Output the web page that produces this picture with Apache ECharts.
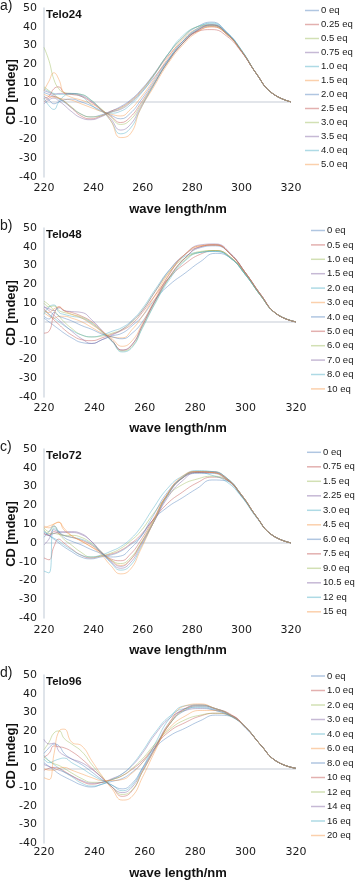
<!DOCTYPE html>
<html><head><meta charset="utf-8">
<script src="https://cdn.jsdelivr.net/npm/echarts@6/dist/echarts.min.js"></script>
<style>html,body{margin:0;padding:0;background:#fff}#c{width:355px;height:883px}</style>
</head><body><div id="c"></div>
<script>
// ---------- data ----------
const wavelength = [220,222,224,226,228,231,235,239,243,247,251,255,259,264,270,276,282,288,294,300,306,312,320];
const xTicks = [220,240,260,280,300,320];
const yTicks = [-40,-30,-20,-10,0,10,20,30,40,50];
const panelNames = ['Telo24','Telo48','Telo72','Telo96'];
const panelLetters = ['a)','b)','c)','d)'];

const eqTelo24 = ['0 eq','0.25 eq','0.5 eq','0.75 eq','1.0 eq','1.5 eq','2.0 eq','2.5 eq','3.0 eq','3.5 eq','4.0 eq','5.0 eq'];
const cdTelo24 = [
 [5,4,3,1.5,0,-3,-6.5,-8,-7,-5,-2.5,1,6,14,25,34,40,42.5,37,27,15,5,0],
 [0,2,3,2,0.5,-3,-7.5,-9,-7.5,-5,-3,0.5,5.5,13.5,24,32,37.5,38.5,35,26.5,15,5,0],
 [8,6,4,2,0.5,-2.5,-6.5,-8,-7.5,-5.5,-3.5,0,5,13.5,25,34,40,41,36.5,27,15,5,0],
 [-1,1,2,0.5,-1.5,-5,-8.5,-9.5,-8,-5.5,-4,-0.5,4.5,12,22,31,38,40.5,36.5,27,15,5,0],
 [7,5.5,4.5,4,4,4,3,-1.5,-5,-6,-5,-1.5,4,13,25,35,40,41.5,37,27.5,15,5,0],
 [4,3,2.5,2,1.5,1,-1,-3,-5,-6.5,-7.5,-4,2,11,23,33,39,41,36.5,27,15,5,0],
 [3,1,-1,0,1,1.5,0,-2,-4.5,-7,-9,-6,0.5,10,22,32,38.5,41,36.5,27,15,5,0],
 [2,3,7,8,5,4,3,0,-4,-7.5,-11,-8,-1,9,21,31,37.5,40,36,27,15,5,0],
 [29,22,12,7,5,4.5,4,1,-3.5,-8,-12,-9.5,-2,8.5,21,31,38,40.5,36,27,15,5,0],
 [6,5,4,4.5,4.5,4.5,3.5,0.5,-4,-9,-15,-12,-3,8,21,31,38,41,36.5,27,15,5,0],
 [2,-2,-4,0,3,4.5,4,1,-4,-10,-17,-14,-4,8,21.5,32,39,42,37,27.5,15,5,0],
 [6,11,15.5,12,5,2.5,1,-1,-4,-10,-19,-17,-4,7,20,30,37,40,36,27,15,5,0]
];

const eqTelo48 = ['0 eq','0.5 eq','1.0 eq','1.5 eq','2.0 eq','3.0 eq','4.0 eq','5.0 eq','6.0 eq','7.0 eq','8.0 eq','10 eq'];
const cdTelo48 = [
 [2,0,-2,-4,-6,-8.5,-11,-11.5,-9.5,-7.5,-6,-2,3,12,20,26,32,36.5,34,25,14,4.5,0],
 [7,4,1,-1.5,-4,-7,-9.5,-10,-8.5,-6.5,-4.5,-1,5,14,24,31,36,38,34.5,25.5,14,4.5,0],
 [11,9,6,3,0,-3.5,-7,-8,-7.5,-6,-4,0,6,16,27,34,37,38,34,25,14,4.5,0],
 [8,6,3.5,1,-1.5,-5,-9,-11.5,-9.5,-7,-4,0.5,6,16,28,36,40,41,36,26,14.5,4.5,0],
 [6,4,2,0,-2,-4.5,-7,-8,-7,-5,-3,1,7,17,28,35,37,37.5,34,25,14,4.5,0],
 [5,3,2,3,3,2,0,-3,-6,-8,-8.5,-4,3,14,27,36,40.5,41,36,26,14.5,4.5,0],
 [3,1.5,5,3,2,0.5,-2,-4,-6.5,-8,-9,-6,0,11,24,34,39.5,40.5,36,26,14.5,4.5,0],
 [-6,-5,4,8,6,5,3,0,-5,-10,-15,-12,-2,11,24.5,34,40,41,36,26,14.5,4.5,0],
 [10,8,8.5,6,5,4,2.5,-0.5,-5,-10,-15.5,-13,-3,10,24,33,37.5,38,34.5,25.5,14,4.5,0],
 [8,7,6,7.5,6,5.5,5,1,-4.5,-10,-15,-12,-2,11,26,36,41,41.5,36.5,26,14.5,4.5,0],
 [4,8,9,5,4,3,2,-1,-5.5,-10.5,-16,-13.5,-3.5,9.5,23,32.5,37,37.5,34,25,14,4.5,0],
 [6,5,7,8,6,4,2,-1.5,-5,-9,-13,-10,-1,12,26,36,40.5,41,36,26,14.5,4.5,0]
];

const eqTelo72 = ['0 eq','0.75 eq','1.5 eq','2.25 eq','3.0 eq','4.5 eq','6.0 eq','7.5 eq','9.0 eq','10.5 eq','12 eq','15 eq'];
const cdTelo72 = [
 [6,4,2,0,-2,-4.5,-7.5,-8.5,-7.5,-6.5,-4.5,-1,3,12,19,24,29,33.5,33,25,14,4.5,0],
 [-8,-9,-2,2,0,-3,-6.5,-8,-7,-6,-4,-0.5,4,12,21,27,32,35,33.5,25,14,4.5,0],
 [8,6,9,5,2,-1,-5,-7.5,-7,-5.5,-3,1,6,15,25,31,34,35.5,33.5,25,14,4.5,0],
 [-1,2,7,6,6,6,5,1,-5,-9.5,-12.5,-9,-1,10,24,33,37.5,37.5,34,25.5,14,4.5,0],
 [6,4,2.5,1,-1,-3.5,-6.5,-7.5,-6.5,-4.5,-2,2,8,18,29,35.5,37.5,36,32.5,24.5,13.5,4.5,0],
 [9,8,10,11,7,4,1,-2,-5,-9,-12,-9,-1,11,26,35,38,37.5,34,25.5,14,4.5,0],
 [3,6,9,6,3,1,-1,-3.5,-5.5,-7.5,-7,-3,3,14,27,34.5,37,37,33.5,25,14,4.5,0],
 [5,4,6,5,4,3,1.5,-1,-5,-8.5,-9.5,-6,1,12,26,34.5,37.5,37.5,34,25.5,14,4.5,0],
 [7,5,5,4.5,4,4,3,0,-4.5,-9,-11,-8,-0.5,11,25.5,34.5,38,38,34.5,25.5,14,4.5,0],
 [5,4,5,5.5,5.5,5.5,4.5,1,-4.5,-10,-13.5,-10.5,-2,10,25,34.5,38,38,34.5,25.5,14,4.5,0],
 [-15,-16,8,6,4,3,2,-0.5,-5,-10.5,-14.5,-12,-3,10,25.5,35,38.5,38,34.5,25.5,14,4.5,0],
 [8,9,10,11,8,4,1,-2,-6,-12,-16.5,-14,-4,10,26,35.5,38,37.5,34,25.5,14,4.5,0]
];

const eqTelo96 = ['0 eq','1.0 eq','2.0 eq','3.0 eq','4.0 eq','6.0 eq','8.0 eq','10 eq','12 eq','14 eq','16 eq','20 eq'];
const cdTelo96 = [
 [3,1,-1,-3,-4.5,-6.5,-9,-10,-8.5,-7,-5.5,-2,3,11,17.5,21.5,25.5,28.5,28,21.5,12.5,4,0],
 [-1,0,0.5,0,-1.5,-4,-7,-8.5,-7.5,-6,-4,-0.5,4,12,20,24.5,28,29.5,28.5,22,12.5,4,0],
 [6,4,2.5,1.5,0,-2.5,-5.5,-7.5,-7.5,-6,-4,0,5,13,21,26,28.5,29.5,28,22,12.5,4,0],
 [2,1,0,-1,-2,-4,-6.5,-8,-7.5,-5.5,-3,1.5,8,18,27,31,32,31,28,22,12.5,4,0],
 [7,4,2,0,-2,-4.5,-8,-9.5,-8.5,-6,-3,2,9,19,28,32,32.5,31,28,22,12.5,4,0],
 [0,-1,-1,0,0.5,-1,-3,-5,-6.5,-6.5,-6,-2.5,3,12,22,28,31,31,28.5,22,12.5,4,0],
 [8,11,13,12,8,5,2,-2,-6,-9,-11,-8,0,11,24,31,33,31.5,28.5,22,12.5,4,0],
 [6,8,12,11.5,11,9,5,0,-5,-10,-15,-12,-2,10,24,32,34,32,29,22,12.5,4,0],
 [10,14,19,20,16,13,9,2,-4.5,-10,-14,-11.5,-2,10.5,24,31.5,33.5,32,28.5,22,12.5,4,0],
 [15.5,13,13.5,9,7,5,3,-0.5,-5,-10,-13,-10,-1,11,25,32,33.5,32,28.5,22,12.5,4,0],
 [5,3,4,5,5.5,3,0,-3.5,-6.5,-9,-12,-9,0,13,27,33.5,34,32,28.5,22,12.5,4,0],
 [-5,-6,8,20,21,14,12,4,-4,-11,-17,-15,-5,9,25,33.5,34.5,32,28.5,22,12.5,4,0]
];

// ---------- layout ----------
const panels = [
  {key:'a', name:panelNames[0], letter:panelLetters[0], eq:eqTelo24, cd:cdTelo24, top:8,   height:169, right:64, xMargin:6, legendTop:4.5,  legendLeft:305, gap:2,   xTitleY:209, yTitleY:92},
  {key:'b', name:panelNames[1], letter:panelLetters[1], eq:eqTelo48, cd:cdTelo48, top:228, height:169, right:59, xMargin:6, legendTop:224.5, legendLeft:311, gap:2.4, xTitleY:428, yTitleY:313},
  {key:'c', name:panelNames[2], letter:panelLetters[2], eq:eqTelo72, cd:cdTelo72, top:449, height:169, right:64, xMargin:7, legendTop:446.3, legendLeft:307, gap:2.5, xTitleY:650, yTitleY:534},
  {key:'d', name:panelNames[3], letter:panelLetters[3], eq:eqTelo96, cd:cdTelo96, top:675, height:168, right:59, xMargin:4, legendTop:670,  legendLeft:311, gap:2.5, xTitleY:873, yTitleY:756}
];
const palette = ['#4F81BD','#C0504D','#9BBB59','#8064A2','#4BACC6','#F79646'];
const tickFont = 'DejaVu Sans';
const boldFont = 'Liberation Sans';

const grid = [], xAxis = [], yAxis = [], series = [], legend = [], graphic = [];
panels.forEach((p, i) => {
  grid.push({left:44, right:p.right, top:p.top, height:p.height});
  xAxis.push({type:'value', gridIndex:i, min:xTicks[0], max:xTicks[xTicks.length-1], interval:20,
    axisLine:{show:false}, axisTick:{show:false}, splitLine:{show:false},
    axisLabel:{color:'#1a1a1a', fontFamily:tickFont, fontSize:11, margin:p.xMargin}});
  yAxis.push({type:'value', gridIndex:i, min:yTicks[0], max:yTicks[yTicks.length-1], interval:10,
    axisLine:{show:true, lineStyle:{color:'#d5dbe3', width:1.5}}, axisTick:{show:false}, splitLine:{show:false},
    axisLabel:{color:'#1a1a1a', fontFamily:tickFont, fontSize:11, margin:7}});
  p.eq.forEach((e, k) => {
    const s = {
      name: p.key + '|' + e, type:'line', xAxisIndex:i, yAxisIndex:i,
      data: wavelength.map((w, j) => [w, p.cd[k][j]]),
      smooth:0.5, symbol:'none', showSymbol:false, color: palette[k % 6],
      lineStyle:{width:1, opacity:0.45}, emphasis:{disabled:true}, silent:true, z:3
    };
    if (k === 0) {
      s.markLine = {silent:true, symbol:['none','none'], label:{show:false}, z:1,
        lineStyle:{color:'#d9dde3', type:'solid', width:1.5, opacity:1},
        data:[{yAxis:0}]};
    }
    series.push(s);
  });
  legend.push({
    data: p.eq.map(e => ({name: p.key + '|' + e, icon:'rect'})), orient:'vertical', left:p.legendLeft, top:p.legendTop,
    itemWidth:14, itemHeight:1.5, itemGap:p.gap, selectedMode:false, padding:0,
    itemStyle:{opacity:0.45},
    formatter: n => n.split('|')[1],
    textStyle:{fontFamily:'Liberation Sans', fontSize:9.5, lineHeight:12, color:'#1a1a1a', padding:[0,0,0,-3]}
  });
  graphic.push({type:'text', left:0, top:p.top - 9, style:{text:p.letter, font:'14px "Liberation Sans"', fill:'#1a1a1a'}});
  graphic.push({type:'text', left:46, top:p.top + 1, style:{text:p.name, font:'bold 11.5px "Liberation Sans"', fill:'#111'}});
  graphic.push({type:'text', x:178, y:p.xTitleY, style:{text:'wave length/nm', font:'bold 13px "Liberation Sans"', fill:'#111', align:'center', verticalAlign:'middle'}});
  graphic.push({type:'text', x:11, y:p.yTitleY, rotation:Math.PI/2, style:{text:'CD [mdeg]', font:'bold 13px "Liberation Sans"', fill:'#111', align:'center', verticalAlign:'middle'}});
});

const chart = echarts.init(document.getElementById('c'), null, {renderer:'canvas'});
chart.setOption({animation:false, backgroundColor:'#fff', grid, xAxis, yAxis, series, legend, graphic});
</script></body></html>
